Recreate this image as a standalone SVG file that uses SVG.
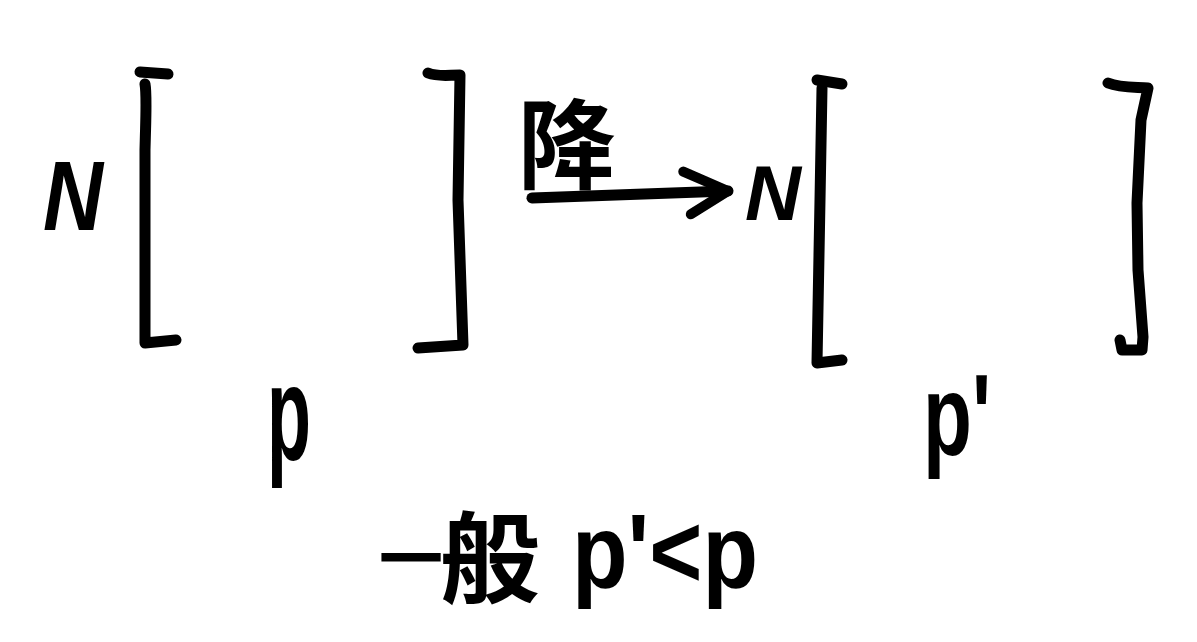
<svg xmlns="http://www.w3.org/2000/svg" width="1197" height="642" viewBox="0 0 1197 642">
<style>
.hand { font-family: "Liberation Sans", "Noto Sans CJK SC", sans-serif; font-weight: 700; fill: #000; }
.cjk { font-family: "Noto Sans CJK SC", sans-serif; font-weight: 700; fill: #000; }
.ink { fill: none; stroke: #000; stroke-width: 11; stroke-linecap: round; stroke-linejoin: round; }
</style>
<defs>
<marker id="head" viewBox="0 0 60 60" refX="50" refY="30" markerWidth="60" markerHeight="60" markerUnits="userSpaceOnUse" orient="auto" overflow="visible">
<path d="M6,9 L50,30 L12,52" fill="none" stroke="#000" stroke-width="10" stroke-linecap="round" stroke-linejoin="round"/>
</marker>
</defs>
<rect width="1197" height="642" fill="#fff"/>
<g id="matrix-left">
<path class="ink" d="M140,72 L168,74"/>
<path class="ink" d="M145,84 C147,95 146,110 145,150 L145,343 L176,340"/>
<path class="ink" d="M428,73 C438,77 448,75 460,75 L458,200 L463,345 L418,348"/>
<text class="hand" x="43" y="230" font-size="98" font-style="italic" textLength="60" lengthAdjust="spacingAndGlyphs">N</text>
<text class="hand" x="267" y="460" font-size="135" textLength="44" lengthAdjust="spacingAndGlyphs">p</text>
</g>
<g id="matrix-right">
<path class="ink" d="M817,80 L842,84"/>
<path class="ink" d="M822,88 L820,200 L817,363 L842,360"/>
<path class="ink" d="M1108,83 C1120,88 1135,87 1148,88 L1141,120 L1137,203 L1138,270 L1143,337 L1142,350 L1122,350 L1120,340"/>
<text class="hand" x="745" y="220" font-size="77" font-style="italic" textLength="56" lengthAdjust="spacingAndGlyphs">N</text>
<text class="hand" x="923" y="455" font-size="115" textLength="68" lengthAdjust="spacingAndGlyphs">p'</text>
</g>
<g id="connectors">
<path class="ink" d="M532,198 L728,191" stroke-width="10" marker-end="url(#head)"/>
<text class="cjk" x="518" y="181" font-size="98">降</text>
</g>
<g id="note">
<text class="hand"><tspan class="cjk" x="379" y="582" font-size="64">一</tspan><tspan class="cjk" x="440" y="596" font-size="100">般 </tspan><tspan x="572" y="587" font-size="104" textLength="186" lengthAdjust="spacingAndGlyphs">p'&lt;p</tspan></text>
</g>
</svg>
